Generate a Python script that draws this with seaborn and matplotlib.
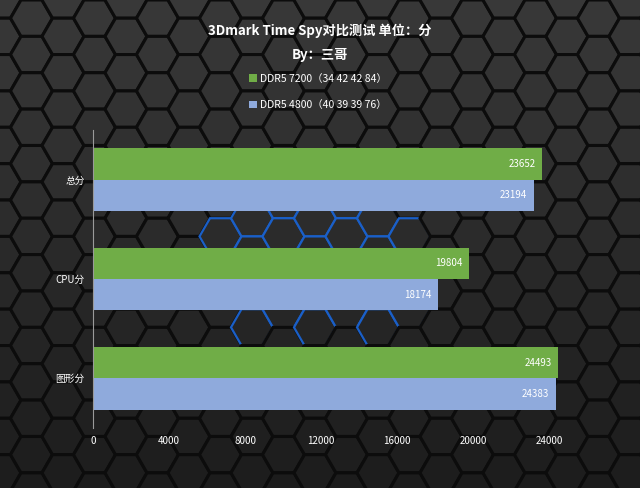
import numpy as np
import pandas as pd
import matplotlib
matplotlib.use('Agg')
import matplotlib.pyplot as plt
import seaborn as sns
from matplotlib.patches import RegularPolygon

# 数据
categories = ['总分', 'CPU分', '图形分']
series = ['DDR5 7200（34 42 42 84）', 'DDR5 4800（40 39 39 76）']
ddr5_7200 = [23652, 19804, 24493]
ddr5_4800 = [23194, 18174, 24383]
x_ticks = [0, 4000, 8000, 12000, 16000, 20000, 24000]

df = pd.DataFrame({
    'cat': categories * 2,
    'score': ddr5_7200 + ddr5_4800,
    'mem': [series[0]] * 3 + [series[1]] * 3,
})

sns.set_theme(style='white')
plt.rcParams['font.family'] = ['Noto Sans CJK SC', 'DejaVu Sans']

W, H = 640, 488
fig = plt.figure(figsize=(6.4, 4.88), dpi=100)
fig.patch.set_facecolor('#262626')

# 六边形背景
bg = fig.add_axes([0, 0, 1, 1], zorder=0)
bg.set_xlim(0, W)
bg.set_ylim(H, 0)
bg.axis('off')
r = 21
dx = 1.5 * r
dy = np.sqrt(3) * r
for i in range(-1, int(W / dx) + 2):
    for j in range(-1, int(H / dy) + 2):
        cx = i * dx
        cy = j * dy + (dy / 2 if i % 2 else 0)
        t = min(max(cy / H, 0), 1)
        g = 0.22 - 0.11 * t
        edge = '#0c0c0c'
        lw = 2.2
        if ((cx - 318) / 115) ** 2 + ((cy - 265) / 80) ** 2 < 1:
            edge = '#1a5fc8'
            lw = 1.6
        bg.add_patch(RegularPolygon((cx, cy), 6, radius=r, orientation=np.pi / 6,
                                    facecolor=(g, g, g), edgecolor=edge, linewidth=lw))

ax = fig.add_axes([93 / W, 1 - 428 / H, 532 / W, 298 / H], zorder=1)
ax.patch.set_alpha(0)
sns.barplot(data=df, y='cat', x='score', hue='mem', orient='h',
            palette=['#70ad47', '#8faadc'], width=0.63, gap=0,
            saturation=1, linewidth=0, ax=ax)

ax.set_xlim(0, 28000)
ax.set_xticks(x_ticks)
ax.set_xticklabels([str(v) for v in x_ticks], color='white', fontsize=7)
ax.tick_params(axis='x', length=0, pad=6)
ax.tick_params(axis='y', length=0, pad=6, labelsize=7, labelcolor='white')
ax.set_xlabel('')
ax.set_ylabel('')
for s in ['top', 'right', 'bottom']:
    ax.spines[s].set_visible(False)
ax.spines['left'].set_color('#9a9a9a')
ax.spines['left'].set_linewidth(0.8)
ax.spines['left'].set_bounds(-0.5, 2.5)

for cont in ax.containers:
    for bar in cont:
        w = bar.get_width()
        ax.annotate(f'{int(w)}', (w, bar.get_y() + bar.get_height() / 2),
                    xytext=(-5, 0), textcoords='offset points',
                    ha='right', va='center', color='white', fontsize=7)

sns.move_legend(ax, 'center', bbox_to_anchor=(318 / W, 1 - 92 / H),
                bbox_transform=fig.transFigure, title=None, frameon=False,
                ncol=1, fontsize=7.5, labelcolor='white', handlelength=0.7,
                handleheight=0.7, handletextpad=0.3, labelspacing=1.6)
for h in ax.get_legend().legend_handles:
    h.set_linewidth(0)

fig.text(0.5, 1 - 31 / H, '3Dmark Time Spy对比测试 单位：分', ha='center', va='center',
         color='white', fontsize=9.5, fontweight='bold')
fig.text(0.5, 1 - 55 / H, 'By：三哥', ha='center', va='center',
         color='white', fontsize=9.5, fontweight='bold')

fig.savefig('out.png', dpi=100, facecolor=fig.get_facecolor())
